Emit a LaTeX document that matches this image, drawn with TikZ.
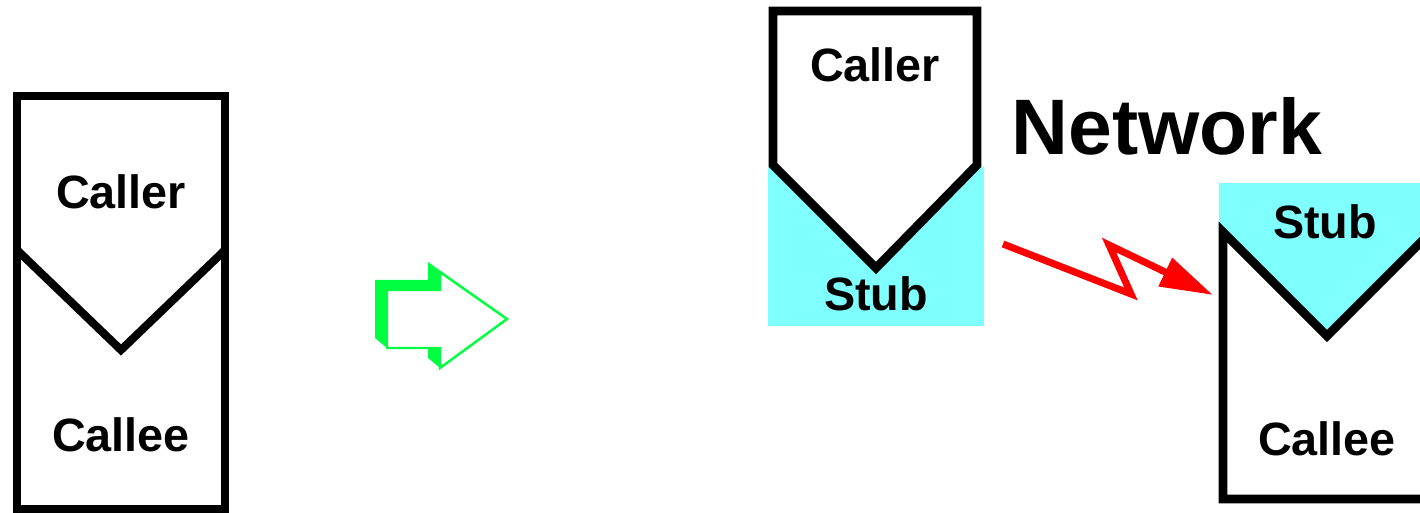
\documentclass[tikz,border=0pt]{standalone}
\usepackage{fontspec}
\setmainfont{Liberation Sans}
\usetikzlibrary{arrows.meta}
\definecolor{stubcyan}{RGB}{128,255,255}
\definecolor{arrowgreen}{RGB}{0,255,64}
\begin{document}
\begin{tikzpicture}[x=0.02cm,y=-0.02cm,
        boxtext/.style={font=\bfseries\fontsize{26.6}{30}\selectfont, inner sep=0pt, anchor=base},
        border/.style={line width=5pt, line join=miter}]
        \useasboundingbox (0,0) rectangle (1420,513);

        % Local call (caller over callee)
        \draw[border] (17,96) rectangle (225,509);
        \draw[line width=4.6pt] (17,250) -- (121,350) -- (225,250);
        \node[boxtext] (caller) at (121,209) {Caller};
        \node[boxtext] (callee) at (121,451) {Callee};

        % Green arrow
        \fill[arrowgreen] (375,280) -- (428,280) -- (428,262) -- (507,319) -- (440,368) -- (428,358) -- (428,348) -- (387,348) -- (375,338) -- cycle;
        \filldraw[fill=white, draw=arrowgreen, line width=1.4pt] (387,290) -- (440,290) -- (440,272) -- (507,319) -- (440,368) -- (440,348) -- (387,348) -- cycle;

        % Caller with stub
        \fill[stubcyan] (768,167) rectangle (984,326);
        \draw[border, fill=white] (773,11) -- (977,11) -- (977,165) -- (876,268) -- (773,165) -- cycle;
        \node[boxtext] (callerR) at (875,82) {Caller};
        \node[boxtext] (stubL) at (876,311) {Stub};

        % Network
        \node[boxtext, font=\bfseries\fontsize{44.8}{50}\selectfont] (network) at (1167,155) {Network};

        % Stub over callee
        \fill[stubcyan] (1219,183) rectangle (1420,345);
        \draw[border, fill=white] (1223,232) -- (1327,336) -- (1431,232) -- (1431,499) -- (1223,499) -- cycle;
        \node[boxtext] (stubR) at (1325,239) {Stub};
        \node[boxtext] (calleeR) at (1327,455) {Callee};

        % Lightning (message over the network)
        \coordinate (sendA) at (1003,244);
        \coordinate (sendB) at (1213,295);
        \draw[red, line width=4pt, line join=miter, -{Triangle[length=1.06cm, width=0.6cm]}] (sendA) -- (1131,294) -- (1109,245) -- (sendB);

\end{tikzpicture}
\end{document}
